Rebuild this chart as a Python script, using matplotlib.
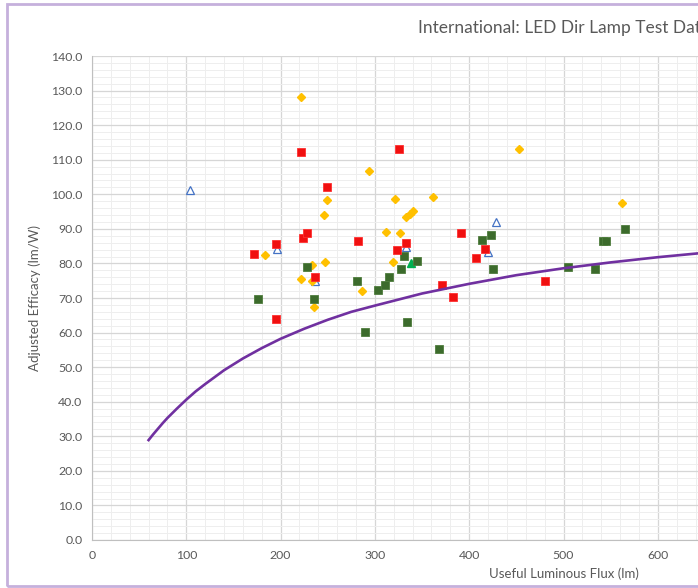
import matplotlib.pyplot as plt
from matplotlib.patches import Rectangle
from matplotlib.ticker import MultipleLocator, FormatStrFormatter

# flux (lm) / adjusted efficacy (lm/W)
red_x = [171.5, 194.8, 194.8, 221.5, 223.4, 228.3, 236.5, 248.8, 282.4, 323.1,
         325.4, 332.6, 371.2, 383.2, 391.6, 406.9, 417.1, 480.4]
red_y = [82.6, 85.5, 63.8, 112.1, 87.3, 88.7, 76.2, 102.1, 86.6, 83.9,
         113.0, 86.0, 73.8, 70.3, 88.8, 81.7, 84.1, 74.9]

green_x = [176.4, 227.5, 235.8, 280.7, 289.4, 303.6, 310.7, 314.6, 327.7, 330.9, 333.7,
           344.3, 368.2, 414.0, 423.1, 424.9, 505.1, 533.8, 542.2, 544.7, 565.6]
green_y = [69.6, 78.9, 69.7, 75.0, 60.3, 72.4, 73.7, 76.0, 78.3, 82.2, 63.1,
           80.6, 55.3, 86.8, 88.1, 78.3, 78.9, 78.5, 86.5, 86.6, 89.9]

yellow_x = [183.5, 221.3, 221.6, 233.6, 233.6, 235.9, 246.4, 246.7, 249.6, 286.3, 294.0,
            311.6, 318.8, 321.1, 326.1, 333.0, 337.2, 340.7, 361.1, 452.5, 562.4]
yellow_y = [82.4, 128.0, 75.6, 79.5, 74.8, 67.3, 94.0, 80.5, 98.3, 72.0, 106.6,
            89.1, 80.5, 98.6, 88.9, 93.3, 94.3, 95.2, 99.1, 113.0, 97.6]

blue_x = [103.9, 195.8, 237.0, 333.0, 420.0, 428.0]
blue_y = [101.3, 84.1, 74.9, 84.8, 83.2, 91.9]

teal_x = [338.5]
teal_y = [80.1]

# limit curve
curve_x = [60, 65, 70, 75, 80, 90, 100, 110, 120, 140, 160, 180, 200, 225, 250, 275, 300,
           350, 400, 450, 500, 550, 600, 650, 700, 750, 800]
curve_y = [28.9, 30.6, 32.2, 33.8, 35.3, 38.0, 40.6, 43.0, 45.1, 49.1, 52.5, 55.5, 58.2,
           61.1, 63.7, 66.0, 67.8, 71.3, 74.1, 76.6, 78.6, 80.3, 81.8, 83.1, 84.2, 85.2, 86.2]

x_ticks = [0, 100, 200, 300, 400, 500, 600]

plt.rcParams['font.family'] = ['Lato', 'DejaVu Sans']
text_color = '#595959'

W, H = 698, 588
fig = plt.figure(figsize=(W / 100, H / 100), dpi=100)

# chart frame (cropped on the right)
fig.patches.append(Rectangle((7 / W, 2 / H), 1.2, 582 / H, transform=fig.transFigure,
                             fill=False, edgecolor='#c5b0dc', lw=2))

ax = fig.add_axes([92 / W, 48 / H, 943 / W, 484 / H])
ax.set_xlim(0, 1000)
ax.set_ylim(0, 140)

ax.set_xticks(x_ticks)
ax.xaxis.set_minor_locator(MultipleLocator(20))
ax.yaxis.set_major_locator(MultipleLocator(10))
ax.yaxis.set_minor_locator(MultipleLocator(2))
ax.yaxis.set_major_formatter(FormatStrFormatter('%.1f'))
ax.grid(which='major', color='#d6d6d6', lw=0.9)
ax.grid(which='minor', color='#eeeeee', lw=0.7)
ax.set_axisbelow(True)
ax.tick_params(which='both', length=0, labelsize=8.8, labelcolor=text_color, pad=7)

for side in ['top', 'right']:
    ax.spines[side].set_visible(False)
for side in ['left', 'bottom']:
    ax.spines[side].set_color('#bfbfbf')

ax.plot(blue_x, blue_y, ls='none', marker='^', ms=6, mfc='white', mec='#4472c4', mew=0.9)
ax.plot(teal_x, teal_y, ls='none', marker='^', ms=6, color='#00b050')
ax.plot(yellow_x, yellow_y, ls='none', marker='D', ms=4.5, color='#ffc000')
ax.plot(green_x, green_y, ls='none', marker='s', ms=6, mfc='#3c6b2c', mec='#4f7d3d', mew=0.6)
ax.plot(red_x, red_y, ls='none', marker='s', ms=6, mfc='#f01010', mec='#ff3030', mew=0.6)
ax.plot(curve_x, curve_y, color='#7030a0', lw=1.9)

ax.set_xlabel('Useful Luminous Flux (lm)', fontsize=9.5, color=text_color, labelpad=5)
ax.set_ylabel('Adjusted Efficacy (lm/W)', fontsize=9.5, color=text_color, labelpad=7)

# chart title is centred on the full chart, so it runs past the right edge
fig.text(418 / W, 1 - 28 / H, 'International: LED Dir Lamp Test Data', fontsize=12.5,
         color=text_color, ha='left', va='center')

fig.savefig('out.png', dpi=100)
